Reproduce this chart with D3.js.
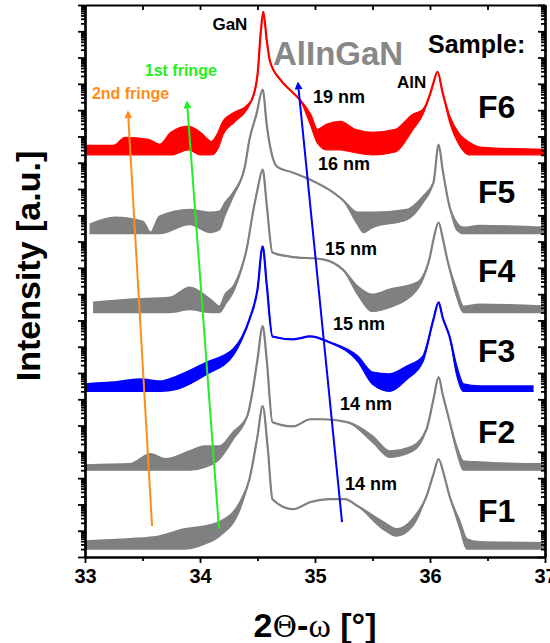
<!DOCTYPE html>
<html>
<head>
<meta charset="utf-8">
<script src="https://cdn.jsdelivr.net/npm/d3@7"></script>
<style>
  body { margin: 0; background: #fff; }
  svg { display: block; }
  text { font-family: "Liberation Sans", Arial, sans-serif; font-weight: bold; }
</style>
</head>
<body>
<svg id="chart" width="550" height="643"></svg>
<script>
// XRD 2Theta-omega scans, log10(counts); noisy parts given as upper / lower envelope
const samples = ["F1", "F2", "F3", "F4", "F5", "F6"];
const sampleOffset = [0, 3, 6, 9, 12, 15]; // decades the scans are shifted by
const thickness = ["14 nm", "14 nm", "15 nm", "15 nm", "16 nm", "19 nm"];

const f1Angle = [33.00, 33.39, 33.65, 33.87, 34.04, 34.17, 34.35, 34.43, 34.50, 34.545, 34.59, 34.63, 34.81, 34.96, 35.13, 35.26, 35.37, 35.59, 35.71, 35.85, 35.97, 36.03, 36.075, 36.12, 36.17, 36.26, 36.32, 36.43, 37.00];
const f1Upper = [0.60, 0.68, 0.79, 1.06, 1.17, 1.33, 2.09, 2.96, 4.60, 5.74, 4.10, 2.20, 1.82, 2.09, 2.20, 2.20, 1.94, 1.33, 1.06, 1.44, 2.32, 3.15, 3.72, 3.15, 2.32, 1.33, 0.68, 0.57, 0.53];
const f1Lower = [0.30, 0.30, 0.30, 0.30, 0.49, 0.79, 1.82, 2.96, 4.60, 5.74, 4.10, 2.20, 1.82, 2.09, 2.20, 2.20, 1.94, 1.06, 0.79, 1.17, 2.32, 3.15, 3.72, 3.15, 2.32, 1.06, 0.30, 0.30, 0.30];

const f2Angle = [33.00, 33.39, 33.57, 33.70, 33.91, 34.04, 34.17, 34.29, 34.41, 34.46, 34.50, 34.545, 34.58, 34.63, 34.81, 34.96, 35.07, 35.28, 35.50, 35.65, 35.85, 35.97, 36.03, 36.075, 36.11, 36.15, 36.23, 36.29, 36.43, 37.00];
const f2Upper = [0.49, 0.53, 0.91, 0.72, 1.02, 1.21, 1.21, 1.75, 2.35, 3.38, 4.52, 5.78, 4.52, 2.13, 1.97, 2.24, 2.24, 2.13, 1.59, 1.02, 1.21, 1.86, 3.00, 3.84, 3.19, 2.51, 1.21, 0.64, 0.60, 0.53];
const f2Lower = [0.30, 0.30, 0.30, 0.30, 0.30, 0.41, 0.72, 1.48, 2.35, 3.38, 4.52, 5.78, 4.52, 2.13, 1.97, 2.24, 2.24, 2.13, 1.36, 0.79, 1.02, 1.86, 3.00, 3.84, 3.19, 2.51, 1.02, 0.30, 0.30, 0.30];

const f3Angle = [33.00, 33.24, 33.48, 33.65, 33.80, 34.06, 34.29, 34.43, 34.50, 34.545, 34.58, 34.63, 34.81, 34.96, 35.13, 35.37, 35.50, 35.65, 35.80, 35.94, 36.03, 36.075, 36.11, 36.17, 36.23, 36.29, 36.43, 36.90];
const f3Upper = [0.57, 0.64, 0.76, 0.68, 0.87, 1.40, 1.90, 3.04, 4.18, 5.82, 4.37, 2.39, 2.28, 2.39, 2.16, 1.63, 1.02, 0.95, 1.25, 1.63, 3.04, 3.69, 3.11, 2.39, 1.25, 0.57, 0.49, 0.49];
const f3Lower = [0.30, 0.30, 0.30, 0.30, 0.38, 0.95, 1.67, 3.04, 4.18, 5.82, 4.37, 2.39, 2.28, 2.39, 2.16, 1.44, 0.57, 0.30, 0.76, 1.44, 3.04, 3.69, 3.11, 2.39, 0.95, 0.30, 0.30, 0.30];

const f4Angle = [33.07, 33.39, 33.74, 33.91, 34.09, 34.17, 34.22, 34.30, 34.41, 34.46, 34.50, 34.545, 34.58, 34.63, 34.78, 35.07, 35.24, 35.37, 35.50, 35.65, 35.89, 36.00, 36.03, 36.075, 36.11, 36.15, 36.23, 36.29, 36.43, 37.00];
const f4Upper = [0.68, 0.79, 0.87, 1.25, 0.79, 0.53, 0.98, 1.36, 2.81, 4.10, 4.98, 5.74, 4.41, 2.58, 2.43, 2.32, 1.94, 1.29, 0.98, 1.17, 1.44, 2.43, 3.08, 3.72, 3.15, 2.32, 1.17, 0.53, 0.60, 0.53];
const f4Lower = [0.30, 0.30, 0.30, 0.41, 0.30, 0.30, 0.60, 1.17, 2.81, 4.10, 4.98, 5.74, 4.41, 2.58, 2.43, 2.32, 1.94, 0.98, 0.34, 0.49, 1.17, 2.43, 3.08, 3.72, 3.15, 2.32, 0.91, 0.30, 0.30, 0.30];

const f5Angle = [33.04, 33.26, 33.50, 33.57, 33.65, 33.91, 34.09, 34.17, 34.22, 34.29, 34.39, 34.43, 34.49, 34.545, 34.58, 34.61, 34.67, 34.81, 34.96, 35.16, 35.24, 35.37, 35.42, 35.50, 35.80, 35.94, 36.03, 36.075, 36.11, 36.17, 36.23, 36.29, 36.43, 37.00];
const f5Upper = [0.64, 0.91, 0.76, 0.34, 0.95, 1.21, 1.10, 1.14, 1.48, 1.86, 2.85, 3.88, 4.83, 5.78, 4.45, 3.61, 2.85, 2.62, 2.35, 1.86, 1.59, 1.10, 1.10, 1.10, 1.21, 1.71, 2.24, 3.69, 2.73, 1.33, 0.72, 0.53, 0.60, 0.53];
const f5Lower = [0.30, 0.30, 0.30, 0.30, 0.30, 0.64, 0.34, 0.45, 1.02, 1.71, 2.85, 3.88, 4.83, 5.78, 4.45, 3.61, 2.85, 2.62, 2.35, 1.86, 1.59, 0.64, 0.34, 0.53, 0.83, 1.48, 2.24, 3.69, 2.73, 1.33, 0.45, 0.30, 0.30, 0.30];

const f6Angle = [33.00, 33.25, 33.35, 33.55, 33.65, 33.75, 33.90, 34.00, 34.10, 34.16, 34.20, 34.30, 34.40, 34.45, 34.50, 34.53, 34.55, 34.58, 34.61, 34.70, 34.80, 34.87, 34.96, 35.02, 35.10, 35.22, 35.35, 35.50, 35.70, 35.85, 35.94, 36.00, 36.03, 36.065, 36.11, 36.17, 36.25, 36.34, 36.45, 37.00];
const f6Upper = [0.64, 0.64, 0.95, 0.87, 0.68, 1.14, 1.37, 1.14, 0.79, 1.14, 1.55, 1.90, 2.13, 2.39, 3.34, 5.05, 5.74, 4.67, 3.84, 3.15, 2.70, 2.39, 1.82, 1.25, 1.44, 1.55, 1.25, 1.14, 1.25, 1.82, 2.01, 2.60, 3.04, 3.46, 2.66, 1.75, 1.10, 0.76, 0.57, 0.49];
const f6Lower = [0.30, 0.30, 0.30, 0.30, 0.30, 0.30, 0.49, 0.30, 0.30, 0.57, 1.06, 1.55, 1.97, 2.39, 3.34, 5.05, 5.74, 4.67, 3.84, 3.15, 2.70, 2.39, 1.44, 0.75, 0.49, 0.49, 0.38, 0.30, 0.41, 1.25, 1.85, 2.60, 3.04, 3.46, 2.66, 1.55, 0.70, 0.30, 0.30, 0.30];

// fringe arrows: [angle, decade] of tail and head
const fringeNames = ["2nd fringe", "1st fringe", "AlInGaN"];
const fringeFrom = [[33.583, 1.18], [34.165, 1.07], [35.235, 1.33]];
const fringeTo = [[33.374, 16.93], [33.887, 17.31], [34.852, 18.03]];

const xTicks = [33, 34, 35, 36, 37];
const xMinorTicks = [33.5, 34.5, 35.5, 36.5];

const curveColors = ["#808080", "#808080", "#0000ff", "#808080", "#808080", "#ff0000"];
const arrowColors = ["#ff8c1a", "#22ee22", "#0000ff"];

const scans = [
  { angle: f1Angle, upper: f1Upper, lower: f1Lower },
  { angle: f2Angle, upper: f2Upper, lower: f2Lower },
  { angle: f3Angle, upper: f3Upper, lower: f3Lower },
  { angle: f4Angle, upper: f4Upper, lower: f4Lower },
  { angle: f5Angle, upper: f5Upper, lower: f5Lower },
  { angle: f6Angle, upper: f6Upper, lower: f6Lower },
];

const svg = d3.select("#chart");
const margin = { top: 5, right: 5, bottom: 86, left: 85 };
const width = 550 - margin.left - margin.right;
const height = 643 - margin.top - margin.bottom;

const x = d3.scaleLinear().domain([33, 37]).range([0, width]);
const y = d3.scaleLog().domain([1, 1e21]).range([height, 0]);
const yDec = (d) => y(Math.pow(10, d));

const g = svg.append("g").attr("transform", `translate(${margin.left},${margin.top})`);

g.append("clipPath").attr("id", "plot-clip")
  .append("rect").attr("width", width).attr("height", height);

// scans
const plot = g.append("g").attr("clip-path", "url(#plot-clip)");
scans.forEach((scan, i) => {
  const pts = scan.angle.map((a, k) => ({ a, hi: scan.upper[k] + sampleOffset[i], lo: scan.lower[k] + sampleOffset[i] }));
  const band = d3.area().x((d) => x(d.a)).y0((d) => yDec(d.lo)).y1((d) => yDec(d.hi)).curve(d3.curveMonotoneX);
  const top = d3.line().x((d) => x(d.a)).y((d) => yDec(d.hi)).curve(d3.curveMonotoneX);
  const bottom = d3.line().x((d) => x(d.a)).y((d) => yDec(d.lo)).curve(d3.curveMonotoneX);
  plot.append("path").datum(pts).attr("d", band).attr("fill", curveColors[i]);
  plot.append("path").datum(pts).attr("d", top).attr("fill", "none").attr("stroke", curveColors[i]).attr("stroke-width", 2.2).attr("stroke-linejoin", "round");
  plot.append("path").datum(pts).attr("d", bottom).attr("fill", "none").attr("stroke", curveColors[i]).attr("stroke-width", 1.2);
});

// arrows
const defs = svg.append("defs");
arrowColors.forEach((c, i) => {
  defs.append("marker").attr("id", "head" + i)
    .attr("viewBox", "0 0 10 10").attr("refX", 8).attr("refY", 5)
    .attr("markerWidth", 4).attr("markerHeight", 4).attr("orient", "auto")
    .append("path").attr("d", "M0,0 L10,5 L0,10 Z").attr("fill", c);
});
fringeNames.forEach((name, i) => {
  g.append("line")
    .attr("x1", x(fringeFrom[i][0])).attr("y1", yDec(fringeFrom[i][1]))
    .attr("x2", x(fringeTo[i][0])).attr("y2", yDec(fringeTo[i][1]))
    .attr("stroke", arrowColors[i]).attr("stroke-width", 2)
    .attr("marker-end", `url(#head${i})`);
});

// annotations
const note = (t, a, d, size, color, anchor) =>
  g.append("text").attr("x", x(a)).attr("y", yDec(d)).attr("font-size", size)
    .attr("fill", color).attr("text-anchor", anchor || "start").text(t);

note("GaN", 34.26, 20.05, 17, "#000", "middle");
note("AlN", 35.713, 17.84, 17, "#000");
note("AlInGaN", 34.635, 18.71, 33, "#888888");
note("Sample:", 35.983, 19.17, 25, "#000");
note("1st fringe", 33.52, 18.30, 16, arrowColors[1]);
note("2nd fringe", 33.06, 17.42, 16, arrowColors[0]);

const nmPos = [[35.261, 2.55], [35.217, 5.59], [35.157, 8.63], [35.087, 11.49], [35.026, 14.72], [34.983, 17.27]];
const samplePos = [1.33, 4.34, 7.42, 10.46, 13.47, 16.70];
samples.forEach((s, i) => {
  note(thickness[i], nmPos[i][0], nmPos[i][1], 18, "#000");
  note(s, 36.417, samplePos[i], 32, "#000");
});

// axes
const axisStyle = (sel) => {
  sel.select(".domain").attr("stroke-width", 2.2);
  sel.selectAll(".tick line").attr("stroke-width", 1.8);
  sel.selectAll(".tick text").attr("font-size", 20).attr("font-weight", "bold")
    .attr("font-family", '"Liberation Sans", Arial, sans-serif');
};

g.append("g").attr("transform", `translate(0,${height})`)
  .call(d3.axisBottom(x).tickValues(xTicks).tickFormat(d3.format("d")).tickSize(6).tickSizeOuter(0).tickPadding(6))
  .call(axisStyle);
g.append("g").attr("transform", `translate(0,${height})`)
  .call(d3.axisBottom(x).tickValues(xMinorTicks).tickFormat("").tickSize(4).tickSizeOuter(0))
  .call(axisStyle);
g.append("g")
  .call(d3.axisTop(x).tickValues(xTicks.concat(xMinorTicks)).tickFormat("").tickSize(-5).tickSizeOuter(0))
  .call(axisStyle);

const yMajor = d3.range(0, 22).map((k) => Math.pow(10, k));
const yMinor = [];
d3.range(0, 21).forEach((k) => d3.range(2, 10).forEach((m) => yMinor.push(m * Math.pow(10, k))));

g.append("g").call(d3.axisLeft(y).tickValues(yMajor).tickFormat("").tickSize(7).tickSizeOuter(0)).call(axisStyle);
g.append("g").call(d3.axisLeft(y).tickValues(yMinor).tickFormat("").tickSize(4).tickSizeOuter(0)).call(axisStyle);
g.append("g").attr("transform", `translate(${width},0)`)
  .call(d3.axisRight(y).tickValues(yMajor).tickFormat("").tickSize(-7).tickSizeOuter(0)).call(axisStyle);
g.append("g").attr("transform", `translate(${width},0)`)
  .call(d3.axisRight(y).tickValues(yMinor).tickFormat("").tickSize(-4).tickSizeOuter(0)).call(axisStyle);

// axis titles
const xTitle = svg.append("text").attr("x", margin.left + width / 2).attr("y", 637)
  .attr("text-anchor", "middle").attr("font-size", 34);
xTitle.append("tspan").text("2");
xTitle.append("tspan").attr("font-family", '"DejaVu Serif", "Liberation Serif", serif').attr("font-weight", "normal").attr("font-size", 30).text("\u0398");
xTitle.append("tspan").text("-");
xTitle.append("tspan").attr("font-family", '"Liberation Serif", serif').attr("font-weight", "normal").attr("font-size", 34).text("\u03c9");
xTitle.append("tspan").text(" [\u00b0]");

svg.append("text").attr("transform", "translate(40,266) rotate(-90)")
  .attr("text-anchor", "middle").attr("font-size", 34).text("Intensity [a.u.]");
</script>
</body>
</html>
